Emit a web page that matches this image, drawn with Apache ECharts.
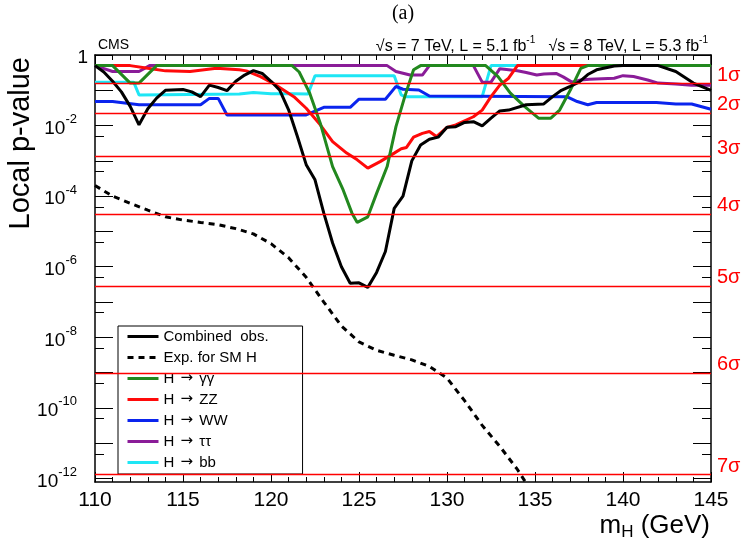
<!DOCTYPE html>
<html>
<head>
<meta charset="utf-8">
<title>Local p-value</title>
<script src="https://cdn.jsdelivr.net/npm/echarts@6.0.0/dist/echarts.min.js"></script>
<style>
	html, body { margin: 0; padding: 0; background: #fff; }
	#chart { width: 743px; height: 544px; }
</style>
</head>
<body>
<div id="chart"></div>
<script>
// values: [mH (GeV), local p-value]
const combinedObs = [
	[110, 0.5], [110.5, 0.33], [111, 0.18], [111.5, 0.09], [112, 0.035], [112.5, 0.0105],
	[113, 0.03], [113.5, 0.06], [114, 0.1], [115, 0.105], [115.5, 0.09], [116, 0.066],
	[116.5, 0.14], [117, 0.12], [117.5, 0.098], [118, 0.18], [118.5, 0.27], [119, 0.36],
	[119.5, 0.3], [120, 0.18], [120.5, 0.1], [121, 0.028], [121.5, 0.0049], [122, 7.8e-4],
	[122.5, 2.9e-4], [123, 3.3e-5], [123.5, 4.7e-6], [124, 1.0e-6], [124.5, 3.4e-7],
	[125, 3.5e-7], [125.5, 2.6e-7], [126, 6.9e-7], [126.5, 2.7e-6], [127, 4.5e-5],
	[127.5, 1.0e-4], [128, 1.0e-3], [128.5, 2.8e-3], [129, 4.1e-3], [129.5, 4.7e-3],
	[130, 8.9e-3], [130.5, 9.3e-3], [131, 0.0123], [131.5, 0.0129], [132, 0.0098],
	[132.5, 0.0162], [133, 0.026], [133.5, 0.0275], [134.5, 0.039], [135.5, 0.041],
	[136, 0.066], [136.5, 0.1], [137, 0.13], [137.5, 0.17], [138, 0.28], [138.5, 0.38],
	[139.5, 0.49], [140, 0.5], [142, 0.5], [143, 0.34], [144, 0.16], [145, 0.1]
];
const expectedSM = [
	[110, 2.0e-4], [111, 1.0e-4], [112, 6.3e-5], [113, 4.0e-5], [114, 2.6e-5], [115, 2.1e-5],
	[116, 1.8e-5], [117, 1.55e-5], [118, 1.2e-5], [119, 8.5e-6], [120, 4.5e-6], [121, 1.8e-6],
	[122, 5.0e-7], [123, 1.0e-7], [124, 2.1e-8], [125, 7.4e-9], [126, 4.3e-9], [127, 3.1e-9],
	[128, 2.3e-9], [129, 1.5e-9], [130, 7.0e-10], [131, 1.6e-10], [132, 3.2e-11],
	[133, 8.1e-12], [134, 1.8e-12], [135, 3.0e-13]
];
const hgg = [
	[110, 0.5], [111, 0.5], [112, 0.16], [112.5, 0.16], [113.5, 0.5], [121.2, 0.5],
	[121.6, 0.33], [122.2, 0.083], [122.8, 0.0117], [123.5, 6.9e-4], [124.1, 1.5e-4],
	[124.6, 3.3e-5], [124.9, 1.8e-5], [125.5, 2.6e-5], [126, 1.2e-4], [126.6, 6.9e-4],
	[127.1, 9.3e-3], [127.6, 0.066], [128.1, 0.38], [128.5, 0.5], [132.2, 0.5],
	[132.9, 0.245], [133.6, 0.083], [134.4, 0.035], [135.2, 0.0162], [135.9, 0.0162],
	[136.4, 0.0275], [137, 0.1], [137.6, 0.42], [138, 0.5], [145, 0.5]
];
const hzz = [
	[110, 0.5], [112, 0.5], [113, 0.42], [114, 0.355], [115.4, 0.34], [116.9, 0.42],
	[118.2, 0.38], [118.6, 0.355], [119.4, 0.245], [120.1, 0.16], [121.3, 0.066],
	[122, 0.031], [122.8, 0.0105], [123.5, 3.5e-3], [124.3, 1.66e-3], [124.9, 1.07e-3],
	[125.5, 6.2e-4], [126.2, 9.5e-4], [127, 1.66e-3], [127.4, 2.2e-3], [127.7, 2.4e-3],
	[128.1, 4.7e-3], [128.6, 6.0e-3], [129, 6.8e-3], [129.4, 4.9e-3], [130, 8.9e-3],
	[130.5, 0.0105], [131.5, 0.0178], [132, 0.0275], [132.5, 0.066], [133, 0.14],
	[133.5, 0.22], [134, 0.5], [145, 0.5]
];
const hww = [
	[110, 0.048], [111, 0.048], [112.5, 0.039], [116, 0.039], [116.5, 0.059], [117, 0.059],
	[117.5, 0.02], [122, 0.02], [123, 0.033], [124.5, 0.033], [125, 0.056], [126.5, 0.056],
	[127.1, 0.129], [127.5, 0.107], [128.4, 0.102], [129, 0.069], [136.8, 0.066],
	[137.4, 0.048], [138, 0.039], [138.5, 0.045], [141.9, 0.045], [143, 0.041],
	[143.9, 0.041], [145, 0.029]
];
const htautau = [
	[110, 0.5], [111, 0.34], [112.5, 0.34], [113.1, 0.5], [126.6, 0.5], [127.1, 0.34],
	[127.9, 0.27], [128.6, 0.27], [129, 0.5], [131.5, 0.5], [132, 0.17], [132.5, 0.17],
	[133, 0.41], [134, 0.36], [134.5, 0.32], [135.1, 0.27], [135.5, 0.29], [136.2, 0.3],
	[136.6, 0.24], [137.1, 0.17], [137.6, 0.195], [138.1, 0.204], [139.5, 0.22],
	[140, 0.26], [140.6, 0.245], [141.4, 0.195], [142, 0.16], [143, 0.15], [143.9, 0.14],
	[145, 0.14]
];
const hbb = [
	[110, 0.17], [112.2, 0.17], [112.5, 0.074], [118.2, 0.078], [119, 0.087], [120, 0.08],
	[121.3, 0.08], [122.1, 0.078], [122.5, 0.257], [127, 0.257], [127.4, 0.074],
	[127.6, 0.066], [132, 0.066], [132.5, 0.5], [135, 0.5]
];

// sigma reference lines
const sigmaLabels = ['1σ', '2σ', '3σ', '4σ', '5σ', '6σ', '7σ'];
const sigmaPValues = [0.1587, 0.02275, 1.35e-3, 3.17e-5, 2.87e-7, 9.87e-10, 1.28e-12];

// axis ticks (log10 of p)
const decadeTicks = [0, -1, -2, -3, -4, -5, -6, -7, -8, -9, -10, -11, -12];
const halfTicks = [-0.301, -1.301, -2.301, -3.301, -4.301, -5.301, -6.301, -7.301, -8.301, -9.301, -10.301, -11.301];
const yLabelDecades = [0, -2, -4, -6, -8, -10, -12];
const xTickLabels = [110, 115, 120, 125, 130, 135, 140, 145];

const LOG_MIN = -12.1;
const FONT = 'Liberation Sans, Arial, Helvetica, sans-serif';

const chart = echarts.init(document.getElementById('chart'));

function toLog(pts) {
	return pts.map(function (d) { return [d[0], Math.log10(d[1])]; });
}

function xAxisDef(gridIndex, pos, labels, visible) {
	return {
		type: 'value', gridIndex: gridIndex, position: pos, show: visible,
		min: 110, max: 145, interval: 5,
		axisLine: { show: true, onZero: false, lineStyle: { color: '#000', width: 1.5 } },
		splitLine: { show: false },
		axisTick: { show: true, inside: true, length: 10, lineStyle: { color: '#000', width: 1 } },
		minorTick: { show: true, splitNumber: 5, length: 5, lineStyle: { color: '#000', width: 1 } },
		axisLabel: labels ? {
			show: true, margin: 8, color: '#000', fontSize: 21, fontFamily: FONT,
			customValues: xTickLabels
		} : { show: false }
	};
}

function yAxisDef(gridIndex, pos, ticks, len, labels, line) {
	return {
		type: 'value', gridIndex: gridIndex, position: pos,
		min: LOG_MIN, max: 0,
		axisLine: { show: line, onZero: false, lineStyle: { color: '#000', width: 1.5 } },
		splitLine: { show: false },
		axisTick: { show: true, inside: true, length: len, customValues: ticks, lineStyle: { color: '#000', width: 1 } },
		axisLabel: labels ? {
			show: true, margin: 7, customValues: yLabelDecades,
			formatter: function (v) {
				if (Math.abs(v) < 1e-9) return '{b|1}';
				return '{b|10}{s|' + Math.round(v) + '}';
			},
			rich: {
				b: { fontSize: 19, fontFamily: FONT, color: '#000', padding: [6, 0, 0, 0] },
				s: { fontSize: 13, fontFamily: FONT, color: '#000', verticalAlign: 'top', padding: [0, 11, 0, 0] }
			}
		} : { show: false }
	};
}

function lineSeries(name, pts, color, width, dashed) {
	return {
		name: name, type: 'line', data: toLog(pts),
		xAxisIndex: 0, yAxisIndex: 0,
		symbol: 'none', showSymbol: false, clip: true,
		lineStyle: { color: color, width: width, type: dashed ? [6, 5] : 'solid' },
		itemStyle: { color: color },
		emphasis: { disabled: true }
	};
}

const option = {
	animation: false,
	backgroundColor: '#fff',
	grid: [
		{ left: 95, right: 32, top: 55, bottom: 62 },
		{ left: 95, right: 32, top: 55, bottom: 62 }
	],
	xAxis: [
		xAxisDef(0, 'bottom', true, true),
		xAxisDef(0, 'top', false, true),
		xAxisDef(1, 'bottom', false, false)
	],
	yAxis: [
		yAxisDef(0, 'left', decadeTicks, 18, true, true),
		yAxisDef(0, 'right', decadeTicks, 18, false, true),
		yAxisDef(1, 'left', halfTicks, 9, false, false),
		yAxisDef(1, 'right', halfTicks, 9, false, false)
	],
	legend: {
		orient: 'vertical', left: 118, top: 326,
		backgroundColor: '#fff', borderColor: '#000', borderWidth: 1,
		padding: [2, 34, 3, 8],
		itemWidth: 31, itemHeight: 14, itemGap: 4,
		itemStyle: { opacity: 0 },
		lineStyle: { width: 3 },
		formatter: function (name) {
			return name.replace('→', '{ar|→}');
		},
		textStyle: {
			fontSize: 15, fontFamily: FONT, color: '#000', lineHeight: 17,
			rich: { ar: { fontSize: 15, fontFamily: 'DejaVu Sans', color: '#000', padding: [0, 2, 0, 2] } }
		},
		data: ['Combined  obs.', 'Exp. for SM H', 'H → γγ', 'H → ZZ', 'H → WW', 'H → ττ', 'H → bb']
	},
	series: [
		{
			name: 'sigma', type: 'line', data: [], xAxisIndex: 0, yAxisIndex: 0,
			markLine: {
				silent: true, symbol: ['none', 'none'],
				lineStyle: { color: '#ff0000', width: 1.3, type: 'solid' },
				label: { show: true, position: 'end', distance: 6, color: '#ff0000', fontSize: 20, lineHeight: 16, fontFamily: FONT, verticalAlign: 'bottom' },
				data: sigmaPValues.map(function (p, i) {
					return { yAxis: Math.log10(p), label: { formatter: sigmaLabels[i] } };
				})
			}
		},
		lineSeries('H → bb', hbb, '#1ee6f5', 3, false),
		lineSeries('H → ττ', htautau, '#8a1c98', 3, false),
		lineSeries('H → WW', hww, '#0a24ee', 3, false),
		lineSeries('H → ZZ', hzz, '#ff0a0a', 3, false),
		lineSeries('H → γγ', hgg, '#22881e', 3, false),
		lineSeries('Exp. for SM H', expectedSM, '#000', 3, true),
		lineSeries('Combined  obs.', combinedObs, '#000', 3, false)
	],
	graphic: [
		{
			type: 'text', x: 403, y: 14,
			style: { text: '(a)', font: '20px "Liberation Serif", "Times New Roman", serif', fill: '#000', textAlign: 'center', textVerticalAlign: 'middle' }
		},
		{
			type: 'text', x: 98, y: 45,
			style: { text: 'CMS', font: '14px ' + FONT, fill: '#000', textAlign: 'left', textVerticalAlign: 'middle' }
		},
		{
			type: 'text', x: 708, y: 45,
			style: {
				text: '{t|√s = 7 TeV, L = 5.1 fb}{u|-1}{t|   √s = 8 TeV, L = 5.3 fb}{u|-1}',
				textAlign: 'right', textVerticalAlign: 'middle',
				rich: {
					t: { fontSize: 16, fontFamily: FONT, fill: '#000', padding: [4, 0, 0, 0] },
					u: { fontSize: 10, fontFamily: FONT, fill: '#000', verticalAlign: 'top' }
				}
			}
		},
		{
			type: 'text', x: 21, y: 57, rotation: Math.PI / 2,
			style: { text: 'Local p-value', font: '29px ' + FONT, fill: '#000', textAlign: 'right', textVerticalAlign: 'middle' }
		},
		{
			type: 'text', x: 710, y: 526,
			style: {
				text: '{m|m}{h|H}{m| (GeV)}',
				textAlign: 'right', textVerticalAlign: 'middle',
				rich: {
					m: { fontSize: 26, fontFamily: FONT, fill: '#000' },
					h: { fontSize: 17, fontFamily: FONT, fill: '#000', verticalAlign: 'bottom', padding: [12, 0, 0, 0] }
				}
			}
		}
	]
};

chart.setOption(option);
</script>
</body>
</html>
